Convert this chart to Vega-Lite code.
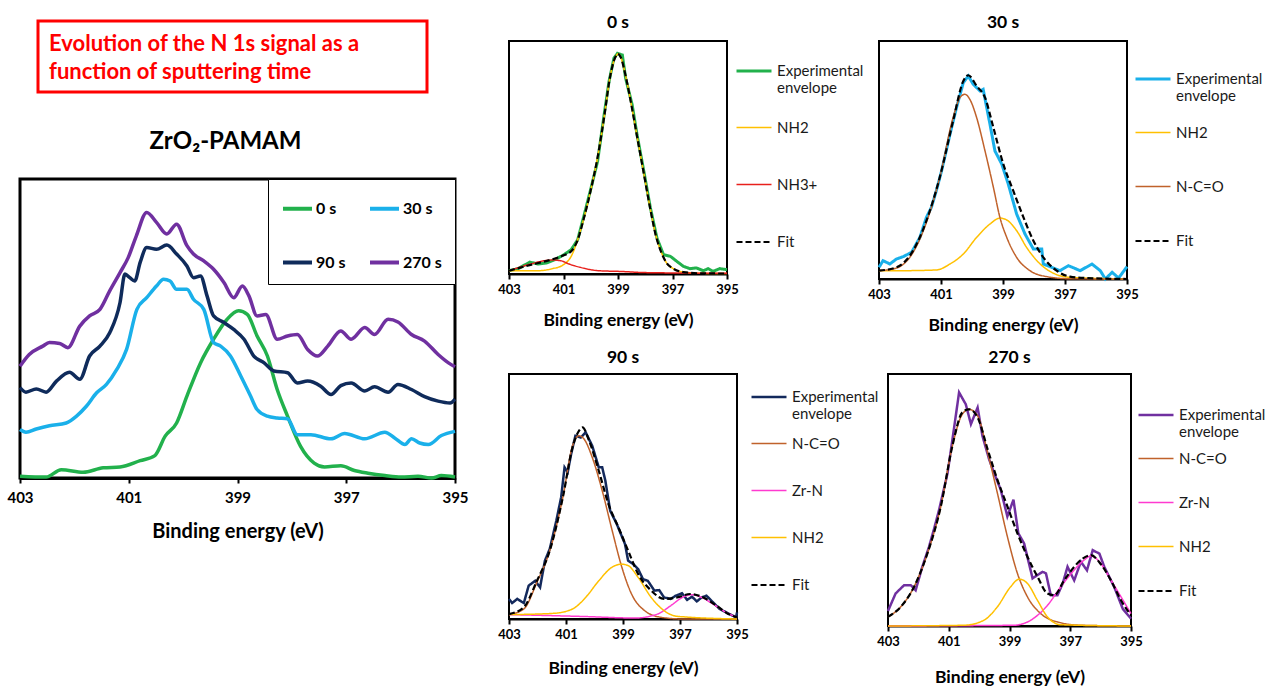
{
"$schema": "https://vega.github.io/schema/vega-lite/v6.json",
"padding": {"left": 5, "top": 12, "right": 0, "bottom": 0},
"spacing": 26,
"resolve": {"scale": {"x": "independent", "y": "independent", "color": "independent", "strokeDash": "independent", "strokeWidth": "independent"}, "legend": {"color": "independent", "strokeDash": "independent", "strokeWidth": "independent"}},
"config": {
  "font": "Lato",
  "view": {"stroke": "black", "strokeWidth": 2},
  "axis": {"grid": false, "domainColor": "black", "domainWidth": 2, "tickColor": "black", "tickWidth": 2, "tickSize": 5, "labelFont": "Lato", "labelFontWeight": "bold", "labelFontSize": 13, "labelColor": "black", "labelPadding": 4, "labelFlush": false, "labelOverlap": false, "titleFont": "Lato", "titleFontWeight": "bold", "titleFontSize": 17.5, "titleColor": "black", "titlePadding": 15},
  "legend": {"symbolType": "stroke", "labelFont": "Lato", "labelFontSize": 15, "labelColor": "#1a1a1a", "padding": 0, "gridAlign": "all", "labelOffset": 4, "labelLimit": 300},
  "title": {"font": "Lato", "fontWeight": "bold", "fontSize": 17.5, "color": "black"}
},
"hconcat": [
  {
    "vconcat": [
      {
        "width": 435, "height": 51,
        "view": {"stroke": null},
        "data": {"values": [{"t": "Evolution of the N 1s signal as a\nfunction of sputtering time"}]},
        "layer": [
          {"mark": {"type": "rect", "fill": "transparent", "stroke": "#ff0000", "strokeWidth": 3}, "encoding": {"x": {"value": 18}, "x2": {"value": 407}, "y": {"value": -20}, "y2": {"value": 51}}},
          {"mark": {"type": "text", "align": "left", "baseline": "top", "font": "Lato", "fontSize": 22, "fontWeight": "bold", "color": "#ff0000", "lineBreak": "\n", "lineHeight": 28}, "encoding": {"text": {"field": "t"}, "x": {"value": 29}, "y": {"value": -7}}}
        ]
      },
      {
        "width": 435, "height": 299,
        "title": {"text": "ZrO₂-PAMAM", "fontSize": 24, "offset": 25, "dx": -12},
        "view": {"stroke": "black", "strokeWidth": 3},
        "data": {"values": [
{"s":"0 s","x":403.0,"y":0.6},{"s":"0 s","x":402.52,"y":0.3},{"s":"0 s","x":402.24,"y":2.8},{"s":"0 s","x":401.84,"y":1.9},{"s":"0 s","x":401.47,"y":3.4},{"s":"0 s","x":401.16,"y":3.7},{"s":"0 s","x":400.79,"y":5.8},{"s":"0 s","x":400.52,"y":7.5},{"s":"0 s","x":400.33,"y":14.0},{"s":"0 s","x":400.12,"y":18.4},{"s":"0 s","x":399.93,"y":27.4},{"s":"0 s","x":399.68,"y":38.5},{"s":"0 s","x":399.44,"y":46.4},{"s":"0 s","x":399.19,"y":53.1},{"s":"0 s","x":398.98,"y":55.9},{"s":"0 s","x":398.82,"y":54.7},{"s":"0 s","x":398.64,"y":47.5},{"s":"0 s","x":398.45,"y":40.8},{"s":"0 s","x":398.27,"y":29.6},{"s":"0 s","x":398.08,"y":20.7},{"s":"0 s","x":397.84,"y":10.6},{"s":"0 s","x":397.59,"y":5.0},{"s":"0 s","x":397.40,"y":3.7},{"s":"0 s","x":397.10,"y":4.1},{"s":"0 s","x":396.85,"y":2.5},{"s":"0 s","x":396.60,"y":1.6},{"s":"0 s","x":396.29,"y":0.8},{"s":"0 s","x":395.99,"y":0.3},{"s":"0 s","x":395.68,"y":0.6},{"s":"0 s","x":395.43,"y":0.0},{"s":"0 s","x":395.25,"y":0.8},{"s":"0 s","x":395.0,"y":0.3},
{"s":"30 s","x":403.0,"y":16.2},{"s":"30 s","x":402.89,"y":15.3},{"s":"30 s","x":402.70,"y":16.4},{"s":"30 s","x":402.46,"y":17.5},{"s":"30 s","x":402.15,"y":18.4},{"s":"30 s","x":401.96,"y":20.7},{"s":"30 s","x":401.78,"y":24.0},{"s":"30 s","x":401.59,"y":28.5},{"s":"30 s","x":401.41,"y":31.3},{"s":"30 s","x":401.22,"y":36.3},{"s":"30 s","x":401.04,"y":43.0},{"s":"30 s","x":400.85,"y":56.4},{"s":"30 s","x":400.67,"y":60.3},{"s":"30 s","x":400.49,"y":64.2},{"s":"30 s","x":400.36,"y":66.5},{"s":"30 s","x":400.24,"y":65.9},{"s":"30 s","x":400.12,"y":63.1},{"s":"30 s","x":399.93,"y":63.1},{"s":"30 s","x":399.81,"y":59.8},{"s":"30 s","x":399.62,"y":56.4},{"s":"30 s","x":399.44,"y":45.3},{"s":"30 s","x":399.31,"y":44.1},{"s":"30 s","x":399.13,"y":40.8},{"s":"30 s","x":398.94,"y":34.1},{"s":"30 s","x":398.76,"y":27.4},{"s":"30 s","x":398.64,"y":22.9},{"s":"30 s","x":398.45,"y":20.7},{"s":"30 s","x":398.27,"y":20.1},{"s":"30 s","x":398.08,"y":19.8},{"s":"30 s","x":397.90,"y":14.5},{"s":"30 s","x":397.65,"y":14.5},{"s":"30 s","x":397.28,"y":13.1},{"s":"30 s","x":397.03,"y":14.9},{"s":"30 s","x":396.66,"y":13.1},{"s":"30 s","x":396.29,"y":15.3},{"s":"30 s","x":396.11,"y":13.4},{"s":"30 s","x":395.92,"y":11.2},{"s":"30 s","x":395.80,"y":13.1},{"s":"30 s","x":395.65,"y":11.7},{"s":"30 s","x":395.49,"y":11.2},{"s":"30 s","x":395.25,"y":14.2},{"s":"30 s","x":395.0,"y":15.6},
{"s":"90 s","x":403.0,"y":30.2},{"s":"90 s","x":402.89,"y":28.7},{"s":"90 s","x":402.70,"y":29.8},{"s":"90 s","x":402.52,"y":28.7},{"s":"90 s","x":402.33,"y":32.4},{"s":"90 s","x":402.09,"y":35.4},{"s":"90 s","x":401.90,"y":33.0},{"s":"90 s","x":401.72,"y":40.8},{"s":"90 s","x":401.53,"y":44.1},{"s":"90 s","x":401.35,"y":48.6},{"s":"90 s","x":401.16,"y":58.7},{"s":"90 s","x":401.07,"y":68.2},{"s":"90 s","x":400.98,"y":67.0},{"s":"90 s","x":400.89,"y":65.9},{"s":"90 s","x":400.79,"y":72.1},{"s":"90 s","x":400.67,"y":77.1},{"s":"90 s","x":400.49,"y":76.5},{"s":"90 s","x":400.30,"y":77.9},{"s":"90 s","x":400.12,"y":74.9},{"s":"90 s","x":399.93,"y":70.9},{"s":"90 s","x":399.81,"y":67.0},{"s":"90 s","x":399.68,"y":67.6},{"s":"90 s","x":399.56,"y":60.9},{"s":"90 s","x":399.44,"y":54.2},{"s":"90 s","x":399.25,"y":52.0},{"s":"90 s","x":399.07,"y":49.7},{"s":"90 s","x":398.88,"y":46.4},{"s":"90 s","x":398.70,"y":40.8},{"s":"90 s","x":398.51,"y":38.5},{"s":"90 s","x":398.33,"y":35.8},{"s":"90 s","x":398.08,"y":35.2},{"s":"90 s","x":397.90,"y":31.8},{"s":"90 s","x":397.71,"y":32.4},{"s":"90 s","x":397.47,"y":30.7},{"s":"90 s","x":397.28,"y":27.9},{"s":"90 s","x":397.10,"y":30.9},{"s":"90 s","x":396.91,"y":31.8},{"s":"90 s","x":396.66,"y":29.1},{"s":"90 s","x":396.48,"y":30.5},{"s":"90 s","x":396.23,"y":28.7},{"s":"90 s","x":396.05,"y":31.3},{"s":"90 s","x":395.80,"y":29.6},{"s":"90 s","x":395.56,"y":27.2},{"s":"90 s","x":395.31,"y":25.7},{"s":"90 s","x":395.09,"y":25.1},{"s":"90 s","x":395.0,"y":26.4},
{"s":"270 s","x":403.0,"y":37.4},{"s":"270 s","x":402.83,"y":41.3},{"s":"270 s","x":402.58,"y":44.1},{"s":"270 s","x":402.46,"y":45.3},{"s":"270 s","x":402.27,"y":45.0},{"s":"270 s","x":402.12,"y":43.6},{"s":"270 s","x":401.90,"y":50.8},{"s":"270 s","x":401.72,"y":54.2},{"s":"270 s","x":401.53,"y":56.4},{"s":"270 s","x":401.35,"y":62.6},{"s":"270 s","x":401.16,"y":68.7},{"s":"270 s","x":401.01,"y":73.7},{"s":"270 s","x":400.86,"y":81.0},{"s":"270 s","x":400.67,"y":88.8},{"s":"270 s","x":400.49,"y":85.5},{"s":"270 s","x":400.30,"y":81.6},{"s":"270 s","x":400.12,"y":84.9},{"s":"270 s","x":399.93,"y":77.7},{"s":"270 s","x":399.81,"y":74.9},{"s":"270 s","x":399.62,"y":72.6},{"s":"270 s","x":399.44,"y":69.8},{"s":"270 s","x":399.25,"y":65.4},{"s":"270 s","x":399.07,"y":60.3},{"s":"270 s","x":398.91,"y":64.2},{"s":"270 s","x":398.79,"y":60.9},{"s":"270 s","x":398.64,"y":54.2},{"s":"270 s","x":398.48,"y":54.7},{"s":"270 s","x":398.27,"y":46.4},{"s":"270 s","x":398.08,"y":47.5},{"s":"270 s","x":397.90,"y":48.0},{"s":"270 s","x":397.71,"y":43.0},{"s":"270 s","x":397.53,"y":40.8},{"s":"270 s","x":397.34,"y":44.1},{"s":"270 s","x":397.10,"y":49.2},{"s":"270 s","x":396.91,"y":46.4},{"s":"270 s","x":396.66,"y":50.3},{"s":"270 s","x":396.48,"y":48.0},{"s":"270 s","x":396.23,"y":53.1},{"s":"270 s","x":396.05,"y":52.2},{"s":"270 s","x":395.80,"y":48.0},{"s":"270 s","x":395.56,"y":45.8},{"s":"270 s","x":395.31,"y":41.3},{"s":"270 s","x":395.12,"y":38.5},{"s":"270 s","x":395.0,"y":37.2}
        ]},
        "mark": {"type": "line", "strokeWidth": 3.5, "interpolate": "monotone"},
        "encoding": {
          "x": {"field": "x", "type": "quantitative", "scale": {"domain": [403, 395], "nice": false, "zero": false}, "axis": {"values": [403, 401, 399, 397, 395], "format": "d", "title": "Binding energy (eV)", "labelFontSize": 15, "titleFontSize": 20, "labelPadding": 7, "titlePadding": 16, "domainWidth": 3}},
          "y": {"field": "y", "type": "quantitative", "scale": {"domain": [0, 100], "nice": false}, "axis": null},
          "color": {"field": "s", "type": "nominal", "title": null, "scale": {"domain": ["0 s", "30 s", "90 s", "270 s"], "range": ["#22b14c", "#1ab0ea", "#0f2b5b", "#7030a0"]},
            "legend": {"orient": "top-right", "direction": "horizontal", "offset": 0, "columns": 2, "padding": 13, "rowPadding": 29, "columnPadding": 16, "gridAlign": "each", "strokeColor": "black", "fillColor": "white", "symbolSize": 841, "symbolStrokeWidth": 4, "labelFontSize": 16, "labelFontWeight": "bold", "labelColor": "black", "labelOffset": 2}}
        }
      }
    ],
    "spacing": 87,
    "center": true,
    "bounds": "flush",
    "resolve": {"scale": {"x": "independent", "y": "independent", "color": "independent", "strokeDash": "independent", "strokeWidth": "independent"}, "legend": {"color": "independent", "strokeDash": "independent", "strokeWidth": "independent"}}
  },
  {
    "vconcat": [
      {
        "hconcat": [
          {
            "width": 218, "height": 233,
            "title": {"text": "0 s", "offset": 10},
            "data": {"values": [
{"s":"Experimental envelope","x":403.0,"y":1.4},{"s":"Experimental envelope","x":402.66,"y":2.3},{"s":"Experimental envelope","x":402.24,"y":5.1},{"s":"Experimental envelope","x":401.93,"y":4.3},{"s":"Experimental envelope","x":401.63,"y":4.7},{"s":"Experimental envelope","x":401.33,"y":6.1},{"s":"Experimental envelope","x":401.02,"y":8.0},{"s":"Experimental envelope","x":400.72,"y":10.4},{"s":"Experimental envelope","x":400.48,"y":14.7},{"s":"Experimental envelope","x":400.24,"y":25.4},{"s":"Experimental envelope","x":399.99,"y":36.9},{"s":"Experimental envelope","x":399.75,"y":48.3},{"s":"Experimental envelope","x":399.51,"y":68.3},{"s":"Experimental envelope","x":399.33,"y":82.6},{"s":"Experimental envelope","x":399.15,"y":92.6},{"s":"Experimental envelope","x":399.02,"y":94.7},{"s":"Experimental envelope","x":398.84,"y":94.0},{"s":"Experimental envelope","x":398.72,"y":84.0},{"s":"Experimental envelope","x":398.48,"y":72.6},{"s":"Experimental envelope","x":398.30,"y":59.7},{"s":"Experimental envelope","x":398.05,"y":44.0},{"s":"Experimental envelope","x":397.81,"y":28.3},{"s":"Experimental envelope","x":397.57,"y":15.4},{"s":"Experimental envelope","x":397.33,"y":8.3},{"s":"Experimental envelope","x":397.08,"y":7.6},{"s":"Experimental envelope","x":396.84,"y":5.4},{"s":"Experimental envelope","x":396.60,"y":3.3},{"s":"Experimental envelope","x":396.36,"y":2.3},{"s":"Experimental envelope","x":396.12,"y":2.6},{"s":"Experimental envelope","x":395.87,"y":1.4},{"s":"Experimental envelope","x":395.69,"y":2.3},{"s":"Experimental envelope","x":395.51,"y":1.1},{"s":"Experimental envelope","x":395.27,"y":2.3},{"s":"Experimental envelope","x":395.0,"y":1.9},
{"s":"NH2","x":403.0,"y":1.4},{"s":"NH2","x":402.0,"y":1.4},{"s":"NH2","x":401.4,"y":2.3},{"s":"NH2","x":401.0,"y":4.0},{"s":"NH2","x":400.7,"y":8.0},{"s":"NH2","x":400.5,"y":14.0},{"s":"NH2","x":400.25,"y":24},{"s":"NH2","x":400.0,"y":36},{"s":"NH2","x":399.75,"y":50},{"s":"NH2","x":399.5,"y":68},{"s":"NH2","x":399.3,"y":84},{"s":"NH2","x":399.1,"y":93},{"s":"NH2","x":399.0,"y":94.5},{"s":"NH2","x":398.9,"y":93},{"s":"NH2","x":398.7,"y":84},{"s":"NH2","x":398.5,"y":72},{"s":"NH2","x":398.3,"y":59},{"s":"NH2","x":398.05,"y":43},{"s":"NH2","x":397.8,"y":27},{"s":"NH2","x":397.6,"y":16},{"s":"NH2","x":397.4,"y":9},{"s":"NH2","x":397.2,"y":4.5},{"s":"NH2","x":397.0,"y":2.5},{"s":"NH2","x":396.6,"y":0.8},{"s":"NH2","x":396.0,"y":0.3},{"s":"NH2","x":395.0,"y":0.2},
{"s":"NH3+","x":403.0,"y":1.4},{"s":"NH3+","x":402.2,"y":4.3},{"s":"NH3+","x":401.7,"y":5.7},{"s":"NH3+","x":401.4,"y":6.0},{"s":"NH3+","x":401.1,"y":5.7},{"s":"NH3+","x":400.8,"y":4.3},{"s":"NH3+","x":400.4,"y":2.9},{"s":"NH3+","x":399.7,"y":1.4},{"s":"NH3+","x":398.9,"y":1.1},{"s":"NH3+","x":398.0,"y":0.6},{"s":"NH3+","x":395.0,"y":0.3},
{"s":"Fit","x":403.0,"y":1.4},{"s":"Fit","x":402.5,"y":3.0},{"s":"Fit","x":402.0,"y":4.5},{"s":"Fit","x":401.5,"y":6.0},{"s":"Fit","x":401.0,"y":8.0},{"s":"Fit","x":400.7,"y":10.0},{"s":"Fit","x":400.5,"y":14.0},{"s":"Fit","x":400.25,"y":24},{"s":"Fit","x":400.0,"y":36},{"s":"Fit","x":399.75,"y":50},{"s":"Fit","x":399.5,"y":68},{"s":"Fit","x":399.3,"y":84},{"s":"Fit","x":399.1,"y":93},{"s":"Fit","x":399.0,"y":94.5},{"s":"Fit","x":398.9,"y":93},{"s":"Fit","x":398.7,"y":84},{"s":"Fit","x":398.5,"y":72},{"s":"Fit","x":398.3,"y":59},{"s":"Fit","x":398.05,"y":43},{"s":"Fit","x":397.8,"y":27},{"s":"Fit","x":397.6,"y":16},{"s":"Fit","x":397.4,"y":9},{"s":"Fit","x":397.2,"y":4.5},{"s":"Fit","x":397.0,"y":2.5},{"s":"Fit","x":396.6,"y":0.8},{"s":"Fit","x":396.0,"y":0.3},{"s":"Fit","x":395.0,"y":0.2}
            ]},
            "encoding": {
              "x": {"field": "x", "type": "quantitative", "scale": {"domain": [403, 395], "nice": false, "zero": false}, "axis": {"values": [403, 401, 399, 397, 395], "format": "d", "title": "Binding energy (eV)"}},
              "y": {"field": "y", "type": "quantitative", "scale": {"domain": [0, 100], "nice": false}, "axis": null},
              "color": {"field": "s", "type": "nominal", "title": null, "scale": {"domain": ["Experimental envelope", "NH2", "NH3+", "Fit"], "range": ["#22b14c", "#ffc000", "#e8201c", "#000000"]},
                "legend": {"orient": "none", "legendX": 226, "legendY": 11, "rowPadding": 13, "symbolSize": 1225, "labelExpr": "datum.label == 'Experimental envelope' ? ['Experimental', 'envelope'] : datum.label"}},
              "strokeDash": {"field": "s", "type": "nominal", "title": null, "scale": {"domain": ["Experimental envelope", "NH2", "NH3+", "Fit"], "range": [[1, 0], [1, 0], [1, 0], [6, 3]]}},
              "strokeWidth": {"field": "s", "type": "nominal", "title": null, "scale": {"type": "ordinal", "domain": ["Experimental envelope", "NH2", "NH3+", "Fit"], "range": [3, 1.5, 1.5, 2.2]}}
            },
            "layer": [
              {"transform": [{"filter": "datum.s == 'Experimental envelope'"}], "mark": {"type": "line"}},
              {"transform": [{"filter": "datum.s != 'Experimental envelope' && datum.s != 'Fit'"}], "mark": {"type": "line", "interpolate": "monotone"}},
              {"transform": [{"filter": "datum.s == 'Fit'"}], "mark": {"type": "line", "interpolate": "monotone"}}
            ]
          },
          {
            "width": 248, "height": 238,
            "title": {"text": "30 s", "offset": 10},
            "data": {"values": [
{"s":"Experimental envelope","x":403.0,"y":4.9},{"s":"Experimental envelope","x":402.87,"y":7.7},{"s":"Experimental envelope","x":402.65,"y":6.3},{"s":"Experimental envelope","x":402.44,"y":8.4},{"s":"Experimental envelope","x":402.22,"y":9.4},{"s":"Experimental envelope","x":401.95,"y":11.2},{"s":"Experimental envelope","x":401.68,"y":17.5},{"s":"Experimental envelope","x":401.47,"y":25.9},{"s":"Experimental envelope","x":401.31,"y":30.1},{"s":"Experimental envelope","x":401.15,"y":37.1},{"s":"Experimental envelope","x":400.98,"y":45.5},{"s":"Experimental envelope","x":400.71,"y":60.8},{"s":"Experimental envelope","x":400.50,"y":72.0},{"s":"Experimental envelope","x":400.28,"y":82.5},{"s":"Experimental envelope","x":400.12,"y":85.3},{"s":"Experimental envelope","x":399.96,"y":81.8},{"s":"Experimental envelope","x":399.74,"y":79.0},{"s":"Experimental envelope","x":399.64,"y":79.7},{"s":"Experimental envelope","x":399.42,"y":65.0},{"s":"Experimental envelope","x":399.26,"y":53.8},{"s":"Experimental envelope","x":399.04,"y":48.3},{"s":"Experimental envelope","x":398.83,"y":39.9},{"s":"Experimental envelope","x":398.56,"y":27.3},{"s":"Experimental envelope","x":398.29,"y":18.9},{"s":"Experimental envelope","x":398.02,"y":12.6},{"s":"Experimental envelope","x":397.75,"y":12.6},{"s":"Experimental envelope","x":397.70,"y":6.3},{"s":"Experimental envelope","x":397.43,"y":4.9},{"s":"Experimental envelope","x":397.16,"y":3.5},{"s":"Experimental envelope","x":396.89,"y":5.6},{"s":"Experimental envelope","x":396.51,"y":3.5},{"s":"Experimental envelope","x":396.13,"y":6.3},{"s":"Experimental envelope","x":395.86,"y":3.5},{"s":"Experimental envelope","x":395.70,"y":0.0},{"s":"Experimental envelope","x":395.48,"y":2.8},{"s":"Experimental envelope","x":395.27,"y":0.4},{"s":"Experimental envelope","x":395.0,"y":5.2},
{"s":"NH2","x":403.0,"y":3.5},{"s":"NH2","x":402.22,"y":3.5},{"s":"NH2","x":401.15,"y":3.8},{"s":"NH2","x":400.71,"y":6.3},{"s":"NH2","x":400.28,"y":10.5},{"s":"NH2","x":399.85,"y":17.5},{"s":"NH2","x":399.42,"y":23.1},{"s":"NH2","x":399.10,"y":25.6},{"s":"NH2","x":398.88,"y":24.8},{"s":"NH2","x":398.56,"y":20.3},{"s":"NH2","x":398.24,"y":13.3},{"s":"NH2","x":397.80,"y":6.3},{"s":"NH2","x":397.37,"y":2.4},{"s":"NH2","x":396.84,"y":0.7},{"s":"NH2","x":395.0,"y":0.0},
{"s":"N-C=O","x":403.0,"y":3.5},{"s":"N-C=O","x":402.44,"y":4.6},{"s":"N-C=O","x":401.90,"y":11.2},{"s":"N-C=O","x":401.47,"y":23.8},{"s":"N-C=O","x":401.04,"y":42.7},{"s":"N-C=O","x":400.61,"y":67.8},{"s":"N-C=O","x":400.39,"y":76.2},{"s":"N-C=O","x":400.23,"y":77.6},{"s":"N-C=O","x":400.07,"y":75.5},{"s":"N-C=O","x":399.85,"y":67.8},{"s":"N-C=O","x":399.58,"y":53.8},{"s":"N-C=O","x":399.31,"y":38.5},{"s":"N-C=O","x":399.10,"y":25.9},{"s":"N-C=O","x":398.88,"y":17.5},{"s":"N-C=O","x":398.56,"y":9.1},{"s":"N-C=O","x":398.13,"y":3.5},{"s":"N-C=O","x":397.59,"y":1.0},{"s":"N-C=O","x":396.84,"y":0.1},{"s":"N-C=O","x":395.0,"y":0.0},
{"s":"Fit","x":403.0,"y":3.5},{"s":"Fit","x":402.44,"y":4.9},{"s":"Fit","x":401.90,"y":11.9},{"s":"Fit","x":401.47,"y":24.5},{"s":"Fit","x":401.04,"y":42.7},{"s":"Fit","x":400.61,"y":66.4},{"s":"Fit","x":400.28,"y":83.2},{"s":"Fit","x":400.12,"y":85.6},{"s":"Fit","x":399.85,"y":81.1},{"s":"Fit","x":399.58,"y":76.2},{"s":"Fit","x":399.31,"y":63.6},{"s":"Fit","x":398.99,"y":48.3},{"s":"Fit","x":398.67,"y":37.1},{"s":"Fit","x":398.34,"y":25.9},{"s":"Fit","x":398.02,"y":16.1},{"s":"Fit","x":397.70,"y":9.1},{"s":"Fit","x":397.27,"y":3.5},{"s":"Fit","x":396.84,"y":1.0},{"s":"Fit","x":396.29,"y":0.4},{"s":"Fit","x":395.0,"y":0.0}
            ]},
            "encoding": {
              "x": {"field": "x", "type": "quantitative", "scale": {"domain": [403, 395], "nice": false, "zero": false}, "axis": {"values": [403, 401, 399, 397, 395], "format": "d", "title": "Binding energy (eV)"}},
              "y": {"field": "y", "type": "quantitative", "scale": {"domain": [0, 100], "nice": false}, "axis": null},
              "color": {"field": "s", "type": "nominal", "title": null, "scale": {"domain": ["Experimental envelope", "NH2", "N-C=O", "Fit"], "range": ["#1ab0ea", "#ffc000", "#c0622b", "#000000"]},
                "legend": {"orient": "none", "legendX": 255, "legendY": 19, "rowPadding": 10, "symbolSize": 1225, "labelExpr": "datum.label == 'Experimental envelope' ? ['Experimental', 'envelope'] : datum.label"}},
              "strokeDash": {"field": "s", "type": "nominal", "title": null, "scale": {"domain": ["Experimental envelope", "NH2", "N-C=O", "Fit"], "range": [[1, 0], [1, 0], [1, 0], [6, 3]]}},
              "strokeWidth": {"field": "s", "type": "nominal", "title": null, "scale": {"type": "ordinal", "domain": ["Experimental envelope", "NH2", "N-C=O", "Fit"], "range": [3, 1.5, 1.5, 2.2]}}
            },
            "layer": [
              {"transform": [{"filter": "datum.s == 'Experimental envelope'"}], "mark": {"type": "line"}},
              {"transform": [{"filter": "datum.s != 'Experimental envelope' && datum.s != 'Fit'"}], "mark": {"type": "line", "interpolate": "monotone"}},
              {"transform": [{"filter": "datum.s == 'Fit'"}], "mark": {"type": "line", "interpolate": "monotone"}}
            ]
          }
        ],
        "spacing": 1,
        "resolve": {"scale": {"x": "independent", "y": "independent", "color": "independent", "strokeDash": "independent", "strokeWidth": "independent"}, "legend": {"color": "independent", "strokeDash": "independent", "strokeWidth": "independent"}}
      },
      {
        "hconcat": [
          {
            "width": 228, "height": 245,
            "title": {"text": "90 s", "offset": 8},
            "data": {"values": [
{"s":"Experimental envelope","x":403.0,"y":8.2},{"s":"Experimental envelope","x":402.89,"y":6.5},{"s":"Experimental envelope","x":402.71,"y":8.2},{"s":"Experimental envelope","x":402.48,"y":6.5},{"s":"Experimental envelope","x":402.31,"y":13.6},{"s":"Experimental envelope","x":402.08,"y":15.6},{"s":"Experimental envelope","x":401.91,"y":12.9},{"s":"Experimental envelope","x":401.74,"y":23.8},{"s":"Experimental envelope","x":401.57,"y":28.6},{"s":"Experimental envelope","x":401.34,"y":40.1},{"s":"Experimental envelope","x":401.17,"y":49.7},{"s":"Experimental envelope","x":401.05,"y":61.9},{"s":"Experimental envelope","x":400.94,"y":59.9},{"s":"Experimental envelope","x":400.82,"y":67.3},{"s":"Experimental envelope","x":400.67,"y":74.8},{"s":"Experimental envelope","x":400.48,"y":74.1},{"s":"Experimental envelope","x":400.31,"y":76.2},{"s":"Experimental envelope","x":400.08,"y":70.7},{"s":"Experimental envelope","x":399.85,"y":61.9},{"s":"Experimental envelope","x":399.73,"y":61.9},{"s":"Experimental envelope","x":399.62,"y":56.5},{"s":"Experimental envelope","x":399.45,"y":44.2},{"s":"Experimental envelope","x":399.22,"y":38.8},{"s":"Experimental envelope","x":398.93,"y":30.6},{"s":"Experimental envelope","x":398.82,"y":23.8},{"s":"Experimental envelope","x":398.64,"y":22.4},{"s":"Experimental envelope","x":398.47,"y":20.4},{"s":"Experimental envelope","x":398.30,"y":16.3},{"s":"Experimental envelope","x":398.13,"y":15.6},{"s":"Experimental envelope","x":397.90,"y":11.6},{"s":"Experimental envelope","x":397.73,"y":11.8},{"s":"Experimental envelope","x":397.56,"y":8.8},{"s":"Experimental envelope","x":397.33,"y":8.2},{"s":"Experimental envelope","x":397.15,"y":9.5},{"s":"Experimental envelope","x":396.93,"y":10.5},{"s":"Experimental envelope","x":396.75,"y":7.8},{"s":"Experimental envelope","x":396.58,"y":9.1},{"s":"Experimental envelope","x":396.41,"y":7.2},{"s":"Experimental envelope","x":396.24,"y":8.8},{"s":"Experimental envelope","x":396.07,"y":9.5},{"s":"Experimental envelope","x":395.84,"y":6.8},{"s":"Experimental envelope","x":395.61,"y":4.1},{"s":"Experimental envelope","x":395.26,"y":2.0},{"s":"Experimental envelope","x":395.03,"y":0.7},{"s":"Experimental envelope","x":395.0,"y":2.7},
{"s":"N-C=O","x":403.0,"y":1.8},{"s":"N-C=O","x":402.48,"y":4.1},{"s":"N-C=O","x":402.02,"y":15.0},{"s":"N-C=O","x":401.57,"y":27.9},{"s":"N-C=O","x":401.11,"y":49.7},{"s":"N-C=O","x":400.77,"y":70.7},{"s":"N-C=O","x":400.54,"y":74.8},{"s":"N-C=O","x":400.37,"y":73.5},{"s":"N-C=O","x":400.08,"y":66.0},{"s":"N-C=O","x":399.73,"y":52.4},{"s":"N-C=O","x":399.38,"y":36.1},{"s":"N-C=O","x":399.04,"y":21.1},{"s":"N-C=O","x":398.70,"y":10.2},{"s":"N-C=O","x":398.24,"y":3.4},{"s":"N-C=O","x":397.67,"y":0.7},{"s":"N-C=O","x":396.87,"y":0.0},{"s":"N-C=O","x":395.0,"y":0.0},
{"s":"Zr-N","x":403.0,"y":1.8},{"s":"Zr-N","x":400.31,"y":1.0},{"s":"Zr-N","x":398.59,"y":0.4},{"s":"Zr-N","x":397.79,"y":2.0},{"s":"Zr-N","x":397.33,"y":5.4},{"s":"Zr-N","x":396.87,"y":9.1},{"s":"Zr-N","x":396.58,"y":9.9},{"s":"Zr-N","x":396.30,"y":9.1},{"s":"Zr-N","x":395.84,"y":6.1},{"s":"Zr-N","x":395.38,"y":2.7},{"s":"Zr-N","x":395.0,"y":0.7},
{"s":"NH2","x":403.0,"y":1.8},{"s":"NH2","x":401.45,"y":2.3},{"s":"NH2","x":400.77,"y":4.1},{"s":"NH2","x":400.31,"y":8.8},{"s":"NH2","x":399.85,"y":15.6},{"s":"NH2","x":399.39,"y":21.1},{"s":"NH2","x":399.05,"y":22.4},{"s":"NH2","x":398.82,"y":21.8},{"s":"NH2","x":398.47,"y":17.0},{"s":"NH2","x":398.01,"y":8.8},{"s":"NH2","x":397.56,"y":3.4},{"s":"NH2","x":397.10,"y":1.1},{"s":"NH2","x":395.0,"y":0.0},
{"s":"Fit","x":403.0,"y":2.0},{"s":"Fit","x":402.48,"y":4.8},{"s":"Fit","x":402.02,"y":15.6},{"s":"Fit","x":401.57,"y":27.9},{"s":"Fit","x":401.11,"y":49.7},{"s":"Fit","x":400.77,"y":70.1},{"s":"Fit","x":400.54,"y":76.9},{"s":"Fit","x":400.42,"y":78.2},{"s":"Fit","x":400.19,"y":72.8},{"s":"Fit","x":399.85,"y":60.5},{"s":"Fit","x":399.51,"y":46.9},{"s":"Fit","x":399.16,"y":37.4},{"s":"Fit","x":398.82,"y":27.9},{"s":"Fit","x":398.47,"y":18.4},{"s":"Fit","x":398.01,"y":11.6},{"s":"Fit","x":397.56,"y":8.2},{"s":"Fit","x":397.10,"y":8.8},{"s":"Fit","x":396.64,"y":10.2},{"s":"Fit","x":396.18,"y":8.8},{"s":"Fit","x":395.72,"y":5.4},{"s":"Fit","x":395.26,"y":1.8},{"s":"Fit","x":395.0,"y":0.7}
            ]},
            "encoding": {
              "x": {"field": "x", "type": "quantitative", "scale": {"domain": [403, 395], "nice": false, "zero": false}, "axis": {"values": [403, 401, 399, 397, 395], "format": "d", "title": "Binding energy (eV)", "titlePadding": 18}},
              "y": {"field": "y", "type": "quantitative", "scale": {"domain": [0, 100], "nice": false}, "axis": null},
              "color": {"field": "s", "type": "nominal", "title": null, "scale": {"domain": ["Experimental envelope", "N-C=O", "Zr-N", "NH2", "Fit"], "range": ["#13295c", "#c0622b", "#ff3ad0", "#ffc000", "#000000"]},
                "legend": {"orient": "none", "legendX": 241, "legendY": 4, "rowPadding": 3, "symbolSize": 1225, "labelExpr": "datum.label == 'Experimental envelope' ? ['Experimental', 'envelope'] : datum.label"}},
              "strokeDash": {"field": "s", "type": "nominal", "title": null, "scale": {"domain": ["Experimental envelope", "N-C=O", "Zr-N", "NH2", "Fit"], "range": [[1, 0], [1, 0], [1, 0], [1, 0], [6, 3]]}},
              "strokeWidth": {"field": "s", "type": "nominal", "title": null, "scale": {"type": "ordinal", "domain": ["Experimental envelope", "N-C=O", "Zr-N", "NH2", "Fit"], "range": [2.5, 1.5, 1.5, 1.5, 2.2]}}
            },
            "layer": [
              {"transform": [{"filter": "datum.s == 'Experimental envelope'"}], "mark": {"type": "line"}},
              {"transform": [{"filter": "datum.s != 'Experimental envelope' && datum.s != 'Fit'"}], "mark": {"type": "line", "interpolate": "monotone"}},
              {"transform": [{"filter": "datum.s == 'Fit'"}], "mark": {"type": "line", "interpolate": "monotone"}}
            ]
          },
          {
            "width": 243, "height": 252,
            "title": {"text": "270 s", "offset": 8},
            "data": {"values": [
{"s":"Experimental envelope","x":403.0,"y":6.0},{"s":"Experimental envelope","x":402.75,"y":12.9},{"s":"Experimental envelope","x":402.47,"y":16.2},{"s":"Experimental envelope","x":402.25,"y":16.2},{"s":"Experimental envelope","x":402.09,"y":14.2},{"s":"Experimental envelope","x":401.87,"y":23.5},{"s":"Experimental envelope","x":401.65,"y":31.4},{"s":"Experimental envelope","x":401.48,"y":38.7},{"s":"Experimental envelope","x":401.32,"y":46.0},{"s":"Experimental envelope","x":401.04,"y":60.6},{"s":"Experimental envelope","x":400.88,"y":73.9},{"s":"Experimental envelope","x":400.66,"y":92.7},{"s":"Experimental envelope","x":400.44,"y":88.0},{"s":"Experimental envelope","x":400.27,"y":80.1},{"s":"Experimental envelope","x":400.05,"y":86.7},{"s":"Experimental envelope","x":399.89,"y":75.4},{"s":"Experimental envelope","x":399.67,"y":66.1},{"s":"Experimental envelope","x":399.51,"y":60.8},{"s":"Experimental envelope","x":399.29,"y":54.1},{"s":"Experimental envelope","x":399.07,"y":43.5},{"s":"Experimental envelope","x":398.87,"y":50.1},{"s":"Experimental envelope","x":398.71,"y":36.8},{"s":"Experimental envelope","x":398.52,"y":32.8},{"s":"Experimental envelope","x":398.24,"y":18.9},{"s":"Experimental envelope","x":398.08,"y":20.2},{"s":"Experimental envelope","x":397.91,"y":21.5},{"s":"Experimental envelope","x":397.80,"y":20.9},{"s":"Experimental envelope","x":397.64,"y":12.2},{"s":"Experimental envelope","x":397.42,"y":12.2},{"s":"Experimental envelope","x":397.25,"y":16.8},{"s":"Experimental envelope","x":397.09,"y":23.5},{"s":"Experimental envelope","x":396.87,"y":18.1},{"s":"Experimental envelope","x":396.65,"y":25.5},{"s":"Experimental envelope","x":396.45,"y":22.1},{"s":"Experimental envelope","x":396.26,"y":30.1},{"s":"Experimental envelope","x":396.04,"y":28.7},{"s":"Experimental envelope","x":395.88,"y":23.5},{"s":"Experimental envelope","x":395.55,"y":15.4},{"s":"Experimental envelope","x":395.27,"y":6.8},{"s":"Experimental envelope","x":395.0,"y":2.9},
{"s":"N-C=O","x":403.0,"y":3.6},{"s":"N-C=O","x":402.58,"y":7.6},{"s":"N-C=O","x":402.14,"y":15.6},{"s":"N-C=O","x":401.70,"y":28.9},{"s":"N-C=O","x":401.26,"y":47.5},{"s":"N-C=O","x":400.88,"y":71.5},{"s":"N-C=O","x":400.55,"y":84.1},{"s":"N-C=O","x":400.33,"y":86.0},{"s":"N-C=O","x":400.05,"y":83.4},{"s":"N-C=O","x":399.72,"y":68.8},{"s":"N-C=O","x":399.40,"y":52.8},{"s":"N-C=O","x":399.07,"y":35.5},{"s":"N-C=O","x":398.74,"y":20.9},{"s":"N-C=O","x":398.41,"y":11.6},{"s":"N-C=O","x":397.97,"y":4.9},{"s":"N-C=O","x":397.42,"y":1.6},{"s":"N-C=O","x":396.65,"y":0.3},{"s":"N-C=O","x":395.0,"y":0.0},
{"s":"Zr-N","x":403.0,"y":0.0},{"s":"Zr-N","x":398.85,"y":0.3},{"s":"Zr-N","x":398.30,"y":2.3},{"s":"Zr-N","x":397.75,"y":8.2},{"s":"Zr-N","x":397.31,"y":15.6},{"s":"Zr-N","x":396.87,"y":22.2},{"s":"Zr-N","x":396.54,"y":26.2},{"s":"Zr-N","x":396.32,"y":27.8},{"s":"Zr-N","x":396.04,"y":25.5},{"s":"Zr-N","x":395.66,"y":18.2},{"s":"Zr-N","x":395.33,"y":11.6},{"s":"Zr-N","x":395.0,"y":4.9},
{"s":"NH2","x":403.0,"y":0.0},{"s":"NH2","x":400.49,"y":0.3},{"s":"NH2","x":399.84,"y":2.3},{"s":"NH2","x":399.40,"y":7.6},{"s":"NH2","x":398.96,"y":15.6},{"s":"NH2","x":398.68,"y":18.6},{"s":"NH2","x":398.41,"y":16.9},{"s":"NH2","x":398.08,"y":10.2},{"s":"NH2","x":397.75,"y":3.6},{"s":"NH2","x":397.31,"y":0.5},{"s":"NH2","x":395.0,"y":0.0},
{"s":"Fit","x":403.0,"y":3.6},{"s":"Fit","x":402.58,"y":7.6},{"s":"Fit","x":402.14,"y":15.6},{"s":"Fit","x":401.70,"y":28.9},{"s":"Fit","x":401.26,"y":47.5},{"s":"Fit","x":400.88,"y":71.5},{"s":"Fit","x":400.55,"y":84.8},{"s":"Fit","x":400.33,"y":86.0},{"s":"Fit","x":400.05,"y":82.8},{"s":"Fit","x":399.72,"y":70.1},{"s":"Fit","x":399.40,"y":58.1},{"s":"Fit","x":399.07,"y":47.5},{"s":"Fit","x":398.74,"y":36.8},{"s":"Fit","x":398.41,"y":27.5},{"s":"Fit","x":398.08,"y":19.6},{"s":"Fit","x":397.75,"y":12.9},{"s":"Fit","x":397.53,"y":12.2},{"s":"Fit","x":397.20,"y":18.1},{"s":"Fit","x":396.87,"y":23.5},{"s":"Fit","x":396.60,"y":26.7},{"s":"Fit","x":396.32,"y":28.1},{"s":"Fit","x":395.99,"y":24.5},{"s":"Fit","x":395.66,"y":18.1},{"s":"Fit","x":395.33,"y":10.2},{"s":"Fit","x":395.0,"y":4.3}
            ]},
            "encoding": {
              "x": {"field": "x", "type": "quantitative", "scale": {"domain": [403, 395], "nice": false, "zero": false}, "axis": {"values": [403, 401, 399, 397, 395], "format": "d", "title": "Binding energy (eV)", "titlePadding": 20}},
              "y": {"field": "y", "type": "quantitative", "scale": {"domain": [0, 100], "nice": false}, "axis": null},
              "color": {"field": "s", "type": "nominal", "title": null, "scale": {"domain": ["Experimental envelope", "N-C=O", "Zr-N", "NH2", "Fit"], "range": ["#7030a0", "#c0622b", "#ff3ad0", "#ffc000", "#000000"]},
                "legend": {"orient": "none", "legendX": 249, "legendY": 22, "rowPadding": 0, "symbolSize": 1225, "labelExpr": "datum.label == 'Experimental envelope' ? ['Experimental', 'envelope'] : datum.label"}},
              "strokeDash": {"field": "s", "type": "nominal", "title": null, "scale": {"domain": ["Experimental envelope", "N-C=O", "Zr-N", "NH2", "Fit"], "range": [[1, 0], [1, 0], [1, 0], [1, 0], [6, 3]]}},
              "strokeWidth": {"field": "s", "type": "nominal", "title": null, "scale": {"type": "ordinal", "domain": ["Experimental envelope", "N-C=O", "Zr-N", "NH2", "Fit"], "range": [2.5, 1.5, 1.5, 1.5, 2.2]}}
            },
            "layer": [
              {"transform": [{"filter": "datum.s == 'Experimental envelope'"}], "mark": {"type": "line"}},
              {"transform": [{"filter": "datum.s != 'Experimental envelope' && datum.s != 'Fit'"}], "mark": {"type": "line", "interpolate": "monotone"}},
              {"transform": [{"filter": "datum.s == 'Fit'"}], "mark": {"type": "line", "interpolate": "monotone"}}
            ]
          }
        ],
        "spacing": -5,
        "resolve": {"scale": {"x": "independent", "y": "independent", "color": "independent", "strokeDash": "independent", "strokeWidth": "independent"}, "legend": {"color": "independent", "strokeDash": "independent", "strokeWidth": "independent"}}
      }
    ],
    "spacing": 12,
    "resolve": {"scale": {"x": "independent", "y": "independent", "color": "independent", "strokeDash": "independent", "strokeWidth": "independent"}, "legend": {"color": "independent", "strokeDash": "independent", "strokeWidth": "independent"}}
  }
]
}
